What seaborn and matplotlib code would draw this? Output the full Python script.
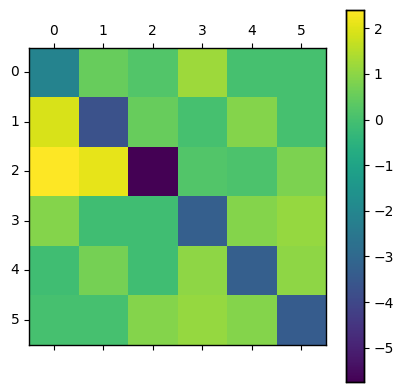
import numpy as np
import pandas as pd
import matplotlib
matplotlib.use("Agg")
import matplotlib.pyplot as plt
import seaborn as sns

labels = [0, 1, 2, 3, 4, 5]
row0 = [-2.1, 0.5, 0.2, 1.2, 0.0, 0.0]
row1 = [1.9, -3.7, 0.5, 0.0, 0.9, 0.0]
row2 = [2.4, 2.1, -5.75, 0.2, 0.1, 0.8]
row3 = [0.9, -0.1, -0.1, -3.3, 0.9, 1.1]
row4 = [-0.1, 0.7, -0.1, 1.0, -3.3, 1.0]
row5 = [0.0, 0.0, 0.9, 1.1, 0.9, -3.4]

data = pd.DataFrame([row0, row1, row2, row3, row4, row5], index=labels, columns=labels)

W, H = 403, 392
fig = plt.figure(figsize=(W / 100, H / 100), dpi=100)
ax = fig.add_axes([29 / W, (H - 345) / H, 297 / W, 298 / H])
cax = fig.add_axes([346 / W, (H - 382) / H, 18 / W, 372 / H])

sns.heatmap(data, cmap="viridis", ax=ax, cbar_ax=cax, square=False,
            xticklabels=labels, yticklabels=labels)
ax.set_aspect("equal")
for s in ax.spines.values():
    s.set_visible(True)
    s.set_color("black")
    s.set_linewidth(1.0)
ax.tick_params(axis="x", top=True, bottom=True, labeltop=True, labelbottom=False,
               length=3.5, width=0.8, rotation=0)
ax.tick_params(axis="y", left=True, length=3.5, width=0.8, rotation=0)
ax.set_xlabel("")
ax.set_ylabel("")
for s in cax.spines.values():
    s.set_visible(True)
    s.set_linewidth(1.0)
cax.tick_params(length=3.5, width=0.8)
cax.set_yticks([-5, -4, -3, -2, -1, 0, 1, 2])

fig.savefig("out.png", dpi=100)
